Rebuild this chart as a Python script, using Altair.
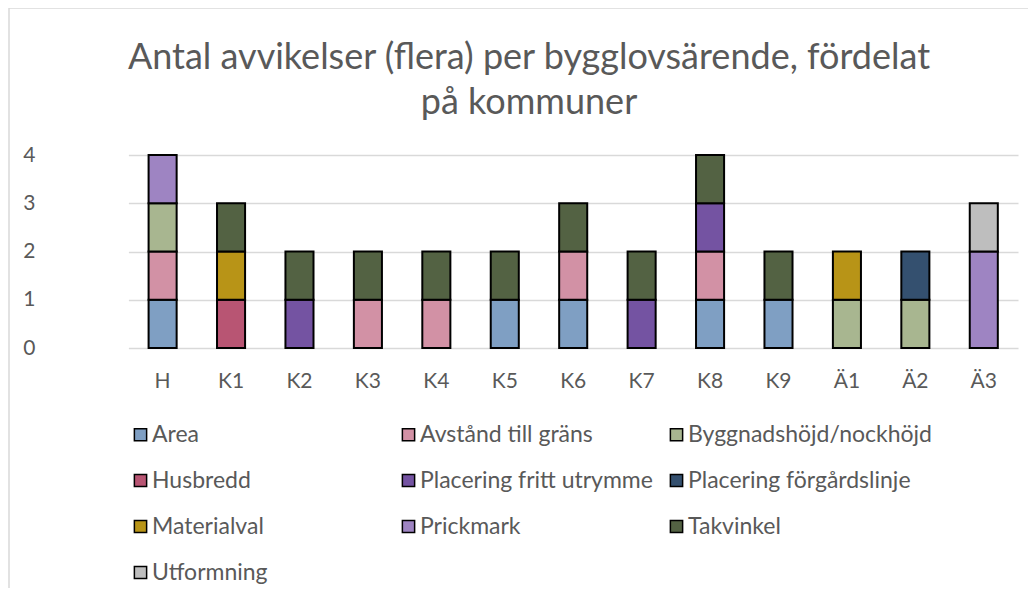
import altair as alt
import pandas as pd

municipalities = ["H", "K1", "K2", "K3", "K4", "K5", "K6", "K7", "K8", "K9", "Ä1", "Ä2", "Ä3"]
types = ["Area", "Avstånd till gräns", "Byggnadshöjd/nockhöjd", "Husbredd",
         "Placering fritt utrymme", "Placering förgårdslinje", "Materialval",
         "Prickmark", "Takvinkel", "Utformning"]
colors = ["#7f9fc3", "#d291a5", "#a8b690", "#b85573", "#7453a2", "#34506f",
          "#b89417", "#9e84c2", "#536243", "#bebebe"]

#                      H  K1 K2 K3 K4 K5 K6 K7 K8 K9 Ä1 Ä2 Ä3
area =                [1, 0, 0, 0, 0, 1, 1, 0, 1, 1, 0, 0, 0]
avstand =             [1, 0, 0, 1, 1, 0, 1, 0, 1, 0, 0, 0, 0]
byggnadshojd =        [1, 0, 0, 0, 0, 0, 0, 0, 0, 0, 1, 1, 0]
husbredd =            [0, 1, 0, 0, 0, 0, 0, 0, 0, 0, 0, 0, 0]
placering_fritt =     [0, 0, 1, 0, 0, 0, 0, 1, 1, 0, 0, 0, 0]
placering_forgard =   [0, 0, 0, 0, 0, 0, 0, 0, 0, 0, 0, 1, 0]
materialval =         [0, 1, 0, 0, 0, 0, 0, 0, 0, 0, 1, 0, 0]
prickmark =           [1, 0, 0, 0, 0, 0, 0, 0, 0, 0, 0, 0, 2]
takvinkel =           [0, 1, 1, 1, 1, 1, 1, 1, 1, 1, 0, 0, 0]
utformning =          [0, 0, 0, 0, 0, 0, 0, 0, 0, 0, 0, 0, 1]

series = [area, avstand, byggnadshojd, husbredd, placering_fritt,
          placering_forgard, materialval, prickmark, takvinkel, utformning]

rows = []
for ti, (t, vals) in enumerate(zip(types, series)):
    for m, v in zip(municipalities, vals):
        if v > 0:
            rows.append({"Kommun": m, "Avvikelse": t, "Antal": v, "ord": ti})
df = pd.DataFrame(rows)

FONT = "Lato"
GREY = "#595959"

bars = alt.Chart(df).mark_bar(stroke="black", strokeWidth=2).encode(
    x=alt.X("Kommun:N", sort=municipalities,
            scale=alt.Scale(domain=municipalities, range=[68.4, 958],
                            paddingInner=0.59, paddingOuter=0.295),
            axis=alt.Axis(title=None, labelAngle=0, domain=False, ticks=False,
                          labelPadding=22, labelFontSize=21, labelColor=GREY,
                          labelFont=FONT, grid=False)),
    y=alt.Y("Antal:Q", stack="zero",
            scale=alt.Scale(domain=[0, 4], nice=False),
            axis=alt.Axis(title=None, values=[0, 1, 2, 3, 4], domain=False,
                          ticks=False, labelPadding=25, labelFontSize=21,
                          labelColor=GREY, labelFont=FONT, grid=True,
                          gridColor="#d9d9d9", gridWidth=1.5)),
    color=alt.Color("Avvikelse:N",
                    scale=alt.Scale(domain=types, range=colors),
                    legend=alt.Legend(title=None, orient="none", legendX=69,
                                      legendY=268, columns=3, direction="horizontal",
                                      gridAlign="all",
                                      columnPadding=0, rowPadding=22,
                                      symbolType="square", symbolSize=150,
                                      symbolStrokeColor="black",
                                      symbolStrokeWidth=1.5, labelOffset=0,
                                      labelFontSize=23, labelColor=GREY,
                                      labelFont=FONT, labelLimit=400)),
    order=alt.Order("ord:Q", sort="ascending"),
)

frame_data = alt.Data(values=[{"edge": "left"}])
border_left = alt.Chart(frame_data).mark_rule(color="#d9d9d9", strokeWidth=1.5).encode(
    x=alt.value(-51), x2=alt.value(-51), y=alt.value(-147), y2=alt.value(440)
)
border_top = alt.Chart(frame_data).mark_rule(color="#d9d9d9", strokeWidth=1.5).encode(
    x=alt.value(-51), x2=alt.value(975), y=alt.value(-147), y2=alt.value(-147)
)

chart = alt.layer(bars, border_left, border_top).properties(
    width=958, height=193,
    title=alt.Title(["Antal avvikelser (flera) per bygglovsärende, fördelat", "på kommuner"],
                    fontSize=36, font=FONT, fontWeight="normal", color=GREY,
                    anchor="middle", offset=-115, lineHeight=45, dx=-10),
    autosize=alt.AutoSizeParams(type="none"),
    padding={"left": 52, "top": 147, "right": 10, "bottom": 240},
).configure_view(stroke=None)

chart.save("out.html", embed_options={"renderer": "svg", "actions": False})
